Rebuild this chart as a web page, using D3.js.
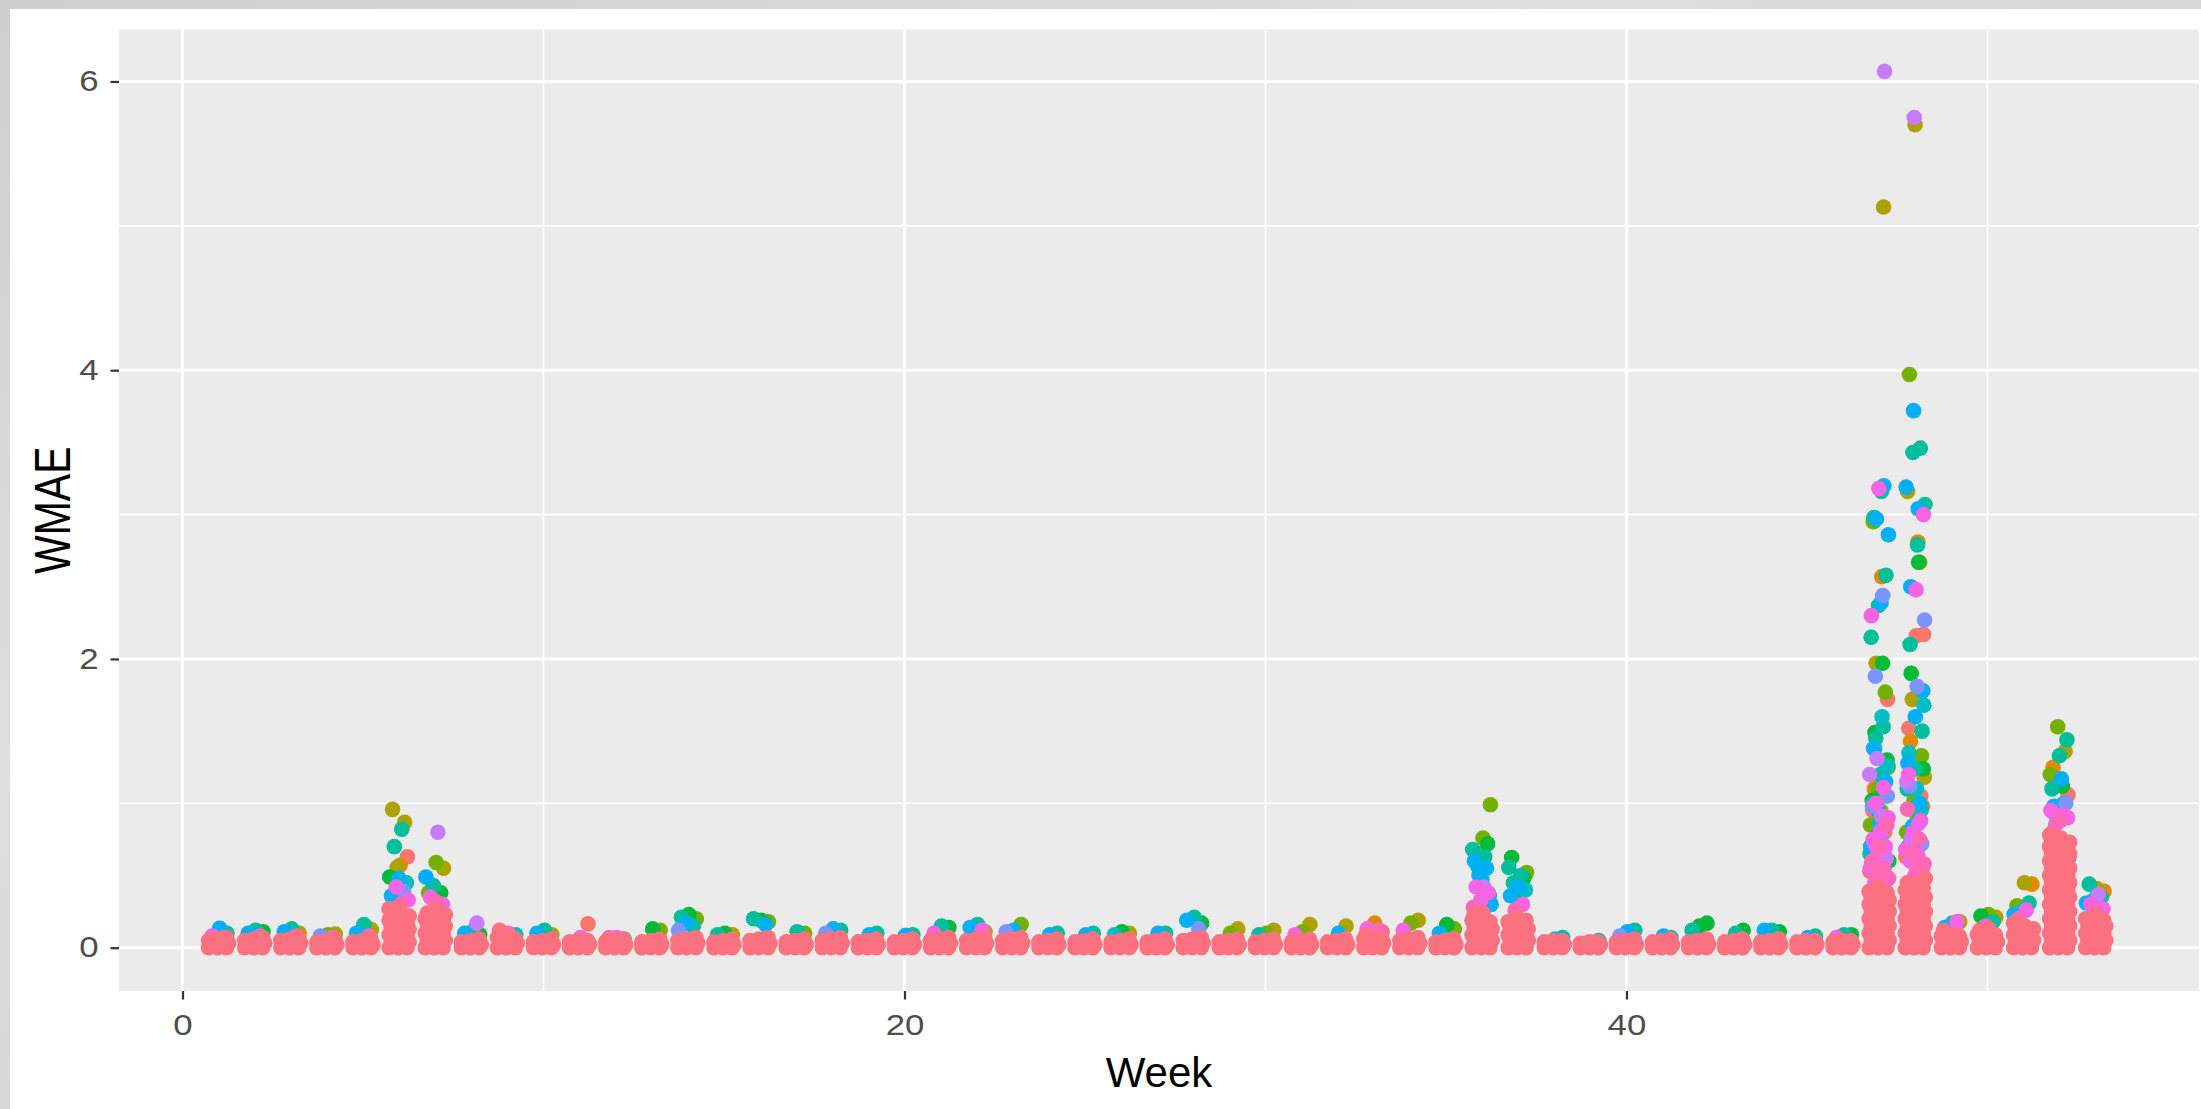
<!DOCTYPE html>
<html>
<head>
<meta charset="utf-8">
<script src="https://cdn.jsdelivr.net/npm/d3@7"></script>
<style>
  html, body { margin: 0; padding: 0; background: #d8d8d8; }
  svg { display: block; }
</style>
</head>
<body>
<script>
// ---------------- DATA ----------------
const xTickValues = [0, 20, 40];
const xTickLabels = ["0", "20", "40"];
const yTickValues = [0, 2, 4, 6];
const yTickLabels = ["0", "2", "4", "6"];
const xMinorTicks = [10, 30, 50];
const yMinorTicks = [1, 3, 5];
const weeks = [1,2,3,4,5,6,7,8,9,10,11,12,13,14,15,16,17,18,19,20,21,22,23,24,25,26,27,28,29,30,31,32,33,34,35,36,37,38,39,40,41,42,43,44,45,46,47,48,49,50,51,52,53];

// colour groups (ggplot hue palette) - [week, WMAE] pairs
const salmonPts = [[11,0.165],[47,1.72],[47,1.15],[47,0.95],[47,0.80],[47,0.63],[47,0.53],[48,2.17],[48,2.16],[48,1.52],[48,1.05],[48,0.82],[48,0.63],[52,1.06],[52,0.90],[6,0.63],[33,0.11]];
const orangePts = [[47,2.57],[47,1.10],[47,0.88],[47,0.93],[47,0.66],[48,2.81],[48,1.43],[48,0.98],[6,0.57],[33,0.17],[51,0.44],[52,1.25],[53,0.39]];
const olivePts = [[47,5.13],[47,1.97],[47,1.25],[47,0.95],[48,5.70],[48,3.16],[48,2.67],[48,1.72],[48,1.18],[48,0.92],[6,0.958],[6,0.868],[6,0.556],[7,0.55],[3,0.10],[4,0.095],[5,0.125],[10,0.09],[15,0.09],[22,0.11],[26,0.10],[29,0.13],[30,0.12],[31,0.16],[32,0.15],[34,0.19],[49,0.18],[50,0.21],[51,0.45],[52,1.36],[53,0.41]];
const limePts = [[47,2.95],[47,1.77],[47,1.10],[47,0.85],[48,3.97],[48,1.33],[48,1.02],[48,0.80],[7,0.59],[7,0.38],[13,0.12],[14,0.20],[16,0.18],[17,0.10],[23,0.16],[29,0.10],[30,0.10],[31,0.11],[34,0.17],[35,0.13],[36,0.99],[36,0.76],[36,0.66],[37,0.52],[37,0.45],[50,0.23],[51,0.29],[52,1.53],[52,1.20],[4,0.09]];
const greenPts = [[47,1.97],[47,1.49],[47,1.30],[47,1.04],[47,1.02],[47,0.90],[47,0.77],[47,0.60],[48,2.67],[48,1.90],[48,1.24],[48,0.97],[48,0.70],[6,0.49],[7,0.38],[2,0.11],[8,0.09],[13,0.13],[14,0.23],[15,0.10],[16,0.19],[21,0.14],[26,0.11],[28,0.17],[35,0.16],[36,0.72],[36,0.52],[37,0.625],[37,0.48],[37,0.38],[42,0.17],[42,0.15],[43,0.12],[44,0.11],[46,0.09],[50,0.22],[52,1.12],[52,0.93]];
const tealPts = [[47,3.16],[47,2.98],[47,2.58],[47,2.37],[47,2.15],[47,1.53],[47,1.45],[47,1.26],[47,1.20],[47,1.00],[47,0.84],[47,0.75],[47,0.65],[48,3.46],[48,3.43],[48,3.07],[48,2.79],[48,2.10],[48,1.50],[48,1.24],[48,1.10],[48,0.90],[48,0.74],[6,0.82],[6,0.70],[7,0.43],[1,0.10],[2,0.12],[3,0.13],[5,0.16],[8,0.11],[10,0.12],[14,0.21],[14,0.15],[15,0.09],[16,0.20],[17,0.11],[18,0.12],[19,0.10],[20,0.09],[21,0.15],[22,0.16],[24,0.10],[25,0.10],[27,0.10],[28,0.21],[30,0.09],[36,0.68],[36,0.63],[36,0.57],[36,0.36],[37,0.555],[37,0.50],[37,0.45],[38,0.07],[39,0.05],[40,0.12],[41,0.07],[42,0.12],[43,0.10],[44,0.12],[45,0.08],[46,0.09],[49,0.17],[50,0.18],[51,0.31],[52,1.44],[52,1.33],[52,1.10],[52,1.00],[53,0.44],[53,0.35]];
const cyanPts = [[47,1.60],[47,1.38],[47,1.25],[47,0.85],[48,1.68],[48,1.10],[48,1.35],[47,0.58],[48,0.95],[6,0.45],[36,0.47],[37,0.40],[52,0.72],[52,0.62],[51,0.25],[53,0.33],[9,0.09],[12,0.06],[26,0.09]];
const skyPts = [[47,3.20],[47,2.97],[47,2.86],[47,2.39],[47,1.38],[47,1.15],[47,0.95],[47,0.70],[48,3.72],[48,3.19],[48,3.04],[48,2.50],[48,1.78],[48,1.60],[48,1.28],[48,1.00],[48,0.84],[6,0.48],[6,0.36],[7,0.49],[1,0.135],[2,0.10],[3,0.11],[5,0.10],[8,0.10],[10,0.10],[14,0.17],[16,0.16],[18,0.13],[19,0.09],[20,0.085],[22,0.14],[23,0.12],[24,0.09],[25,0.09],[27,0.10],[28,0.19],[32,0.10],[35,0.10],[36,0.60],[36,0.55],[36,0.50],[36,0.30],[37,0.42],[37,0.36],[38,0.06],[40,0.11],[41,0.08],[44,0.12],[45,0.07],[49,0.14],[51,0.23],[52,1.17],[52,0.98],[53,0.31]];
const bluePts = [[47,2.44],[47,1.88],[47,1.05],[47,0.78],[48,2.27],[48,1.81],[48,1.12],[6,0.39],[4,0.08],[14,0.12],[18,0.10],[23,0.11],[28,0.13],[40,0.08],[52,1.00],[52,0.90],[47,0.98],[48,0.72]];
const purplePts = [[47,6.07],[47,1.31],[47,1.20],[47,0.91],[47,0.72],[47,0.62],[48,5.75],[48,1.15],[48,0.86],[48,0.76],[7,0.80],[8,0.17],[36,0.42],[53,0.37]];
const magentaPts = [[47,3.18],[47,2.30],[47,1.11],[47,1.00],[47,0.90],[47,0.81],[47,0.75],[47,0.70],[47,0.66],[47,0.55],[47,0.50],[47,0.45],[48,3.00],[48,2.48],[48,1.20],[48,0.88],[48,0.80],[48,0.68],[48,0.64],[48,0.60],[48,0.55],[48,0.50],[6,0.42],[6,0.33],[7,0.35],[7,0.30],[1,0.08],[2,0.08],[4,0.07],[5,0.08],[11,0.07],[12,0.07],[21,0.10],[22,0.12],[31,0.09],[33,0.13],[34,0.12],[36,0.42],[36,0.38],[36,0.33],[37,0.30],[46,0.07],[49,0.18],[50,0.15],[51,0.26],[52,0.95],[52,0.92],[52,0.85],[52,0.90],[53,0.30],[53,0.27]];
const pinkPts = [[1,0.07],[3,0.08],[12,0.07],[33,0.12],[47,0.85],[47,0.70],[47,0.60],[47,0.55],[47,0.50],[47,0.48],[47,0.40],[48,0.96],[48,0.75],[48,0.66],[48,0.58],[48,0.55],[48,0.45],[52,0.88],[52,0.80],[52,0.65],[52,0.55],[6,0.30],[7,0.32],[36,0.28],[37,0.26],[9,0.10],[53,0.25],[51,0.20]];

// dense bulk of low-WMAE points for each week (index = week - 1)
const bulkByWeek = [
  [0,0,0,0.02,0.03,0.03,0.05,0.06,0.07],
  [0,0,0,0.02,0.03,0.03,0.05,0.06,0.07],
  [0,0,0,0.02,0.03,0.03,0.05,0.06,0.07],
  [0,0,0,0.02,0.03,0.02,0.04,0.05,0.06],
  [0,0,0,0.02,0.03,0.02,0.04,0.05,0.06],
  [0,0,0,0.04,0.05,0.04,0.09,0.10,0.08,0.14,0.15,0.13,0.19,0.20,0.18,0.24,0.25,0.22,0.27,0.28],
  [0,0,0,0.05,0.04,0.05,0.10,0.09,0.10,0.15,0.14,0.15,0.20,0.19,0.20,0.24,0.26,0.23],
  [0,0,0,0.02,0.03,0.02,0.04,0.05,0.06],
  [0,0,0,0.03,0.04,0.03,0.07,0.08,0.06,0.12],
  [0,0,0,0.02,0.03,0.02,0.04,0.05,0.06],
  [0,0,0,0.02,0.03,0.02,0.04,0.05,0.05],
  [0,0,0,0.02,0.03,0.02,0.04,0.05,0.06],
  [0,0,0,0.02,0.03,0.02,0.04,0.05,0.06],
  [0,0,0,0.02,0.03,0.03,0.05,0.06,0.07],
  [0,0,0,0.02,0.03,0.02,0.04,0.05,0.06],
  [0,0,0,0.02,0.03,0.03,0.05,0.06,0.07],
  [0,0,0,0.02,0.03,0.02,0.04,0.05,0.06],
  [0,0,0,0.02,0.03,0.03,0.05,0.06,0.07],
  [0,0,0,0.02,0.03,0.02,0.04,0.05,0.06],
  [0,0,0,0.02,0.03,0.02,0.04,0.05,0.06],
  [0,0,0,0.02,0.03,0.03,0.05,0.06,0.07],
  [0,0,0,0.02,0.03,0.03,0.05,0.06,0.07],
  [0,0,0,0.02,0.03,0.03,0.05,0.06,0.07],
  [0,0,0,0.02,0.03,0.02,0.04,0.05,0.06],
  [0,0,0,0.02,0.03,0.02,0.04,0.05,0.06],
  [0,0,0,0.02,0.03,0.02,0.04,0.05,0.06],
  [0,0,0,0.02,0.03,0.02,0.04,0.05,0.06],
  [0,0,0,0.02,0.03,0.03,0.05,0.06,0.07],
  [0,0,0,0.02,0.03,0.02,0.04,0.05,0.06],
  [0,0,0,0.02,0.03,0.02,0.04,0.05,0.06],
  [0,0,0,0.02,0.03,0.02,0.04,0.05,0.06],
  [0,0,0,0.02,0.03,0.02,0.04,0.05,0.06],
  [0,0,0,0.03,0.04,0.03,0.06,0.07,0.06,0.09],
  [0,0,0,0.02,0.03,0.03,0.05,0.06,0.07],
  [0,0,0,0.02,0.03,0.02,0.04,0.05,0.06],
  [0,0,0,0.05,0.04,0.05,0.09,0.10,0.09,0.14,0.15,0.13,0.19,0.20,0.18,0.23,0.24],
  [0,0,0,0.05,0.04,0.05,0.09,0.10,0.09,0.14,0.15,0.13,0.18,0.21,0.19],
  [0,0,0,0.02,0.03,0.02,0.04,0.05,0.05],
  [0,0,0,0.02,0.03,0.02,0.03,0.04,0.04],
  [0,0,0,0.02,0.03,0.02,0.04,0.05,0.06],
  [0,0,0,0.02,0.03,0.02,0.04,0.05,0.06],
  [0,0,0,0.02,0.03,0.02,0.04,0.05,0.06],
  [0,0,0,0.02,0.03,0.02,0.04,0.05,0.06],
  [0,0,0,0.02,0.03,0.02,0.04,0.05,0.06],
  [0,0,0,0.02,0.03,0.02,0.04,0.05,0.05],
  [0,0,0,0.02,0.03,0.02,0.04,0.05,0.05],
  [0,0,0,0.05,0.04,0.05,0.10,0.09,0.10,0.15,0.14,0.15,0.20,0.19,0.20,0.25,0.24,0.25,0.30,0.29,0.30,0.35,0.34,0.33,0.39,0.42,0.38],
  [0,0,0,0.05,0.04,0.05,0.10,0.09,0.10,0.15,0.14,0.15,0.20,0.19,0.20,0.25,0.24,0.25,0.30,0.29,0.30,0.35,0.34,0.35,0.40,0.39,0.41,0.45,0.44,0.48],
  [0,0,0,0.04,0.05,0.04,0.08,0.09,0.08,0.12],
  [0,0,0,0.04,0.05,0.04,0.09,0.08,0.09,0.12,0.13],
  [0,0,0,0.05,0.04,0.05,0.09,0.10,0.09,0.14,0.15,0.13,0.17],
  [0,0,0,0.05,0.04,0.05,0.10,0.09,0.10,0.15,0.14,0.15,0.20,0.19,0.20,0.25,0.24,0.25,0.30,0.29,0.30,0.35,0.34,0.35,0.40,0.39,0.40,0.45,0.44,0.45,0.50,0.49,0.50,0.55,0.54,0.55,0.60,0.59,0.60,0.65,0.64,0.65,0.70,0.69,0.70,0.74,0.76,0.73,0.78],
  [0,0,0,0.05,0.04,0.05,0.10,0.09,0.10,0.15,0.14,0.15,0.20,0.22,0.19]
];

const groups = [
  { pts: salmonPts,  color: "#F8766D" },
  { pts: orangePts,  color: "#E08A00" },
  { pts: olivePts,   color: "#ADA200" },
  { pts: limePts,    color: "#74B000" },
  { pts: greenPts,   color: "#00BA38" },
  { pts: tealPts,    color: "#00BF9A" },
  { pts: cyanPts,    color: "#00BFC4" },
  { pts: skyPts,     color: "#00B0F6" },
  { pts: bluePts,    color: "#7B95FF" },
  { pts: purplePts,  color: "#C77CFF" },
  { pts: magentaPts, color: "#F564E3" },
  { pts: pinkPts,    color: "#FF68B4" }
];
const bulkColor = "#FC717F";

// ---------------- LAYOUT ----------------
const W = 2201, H = 1109;
const panel = { left: 119, right: 2199, top: 29.5, bottom: 991 };
const x = d3.scaleLinear().domain([-1.76, 55.86]).range([panel.left, panel.right]);
const y = d3.scaleLinear().domain([-0.30, 6.36]).range([panel.bottom, panel.top]);
const R = 7.8;
const JIT = 0.27; // jitter half-width in weeks

const svg = d3.select("body").append("svg").attr("width", W).attr("height", H);

// outer textured frame
const defs = svg.append("defs");
const g1 = defs.append("linearGradient").attr("id", "frame").attr("x1", 0).attr("y1", 0).attr("x2", 1).attr("y2", 1);
g1.append("stop").attr("offset", "0%").attr("stop-color", "#cfcfcf");
g1.append("stop").attr("offset", "35%").attr("stop-color", "#dedede");
g1.append("stop").attr("offset", "60%").attr("stop-color", "#d2d2d2");
g1.append("stop").attr("offset", "100%").attr("stop-color", "#e2e2e2");
svg.append("rect").attr("width", W).attr("height", H).attr("fill", "url(#frame)");
svg.append("rect").attr("x", 10).attr("y", 9).attr("width", W - 10).attr("height", H - 9).attr("fill", "#ffffff");

// panel
svg.append("rect").attr("x", panel.left).attr("y", panel.top)
  .attr("width", panel.right - panel.left).attr("height", panel.bottom - panel.top)
  .attr("fill", "#EBEBEB");

const grid = svg.append("g");
grid.selectAll(".ymin").data(yMinorTicks).join("line")
  .attr("x1", panel.left).attr("x2", panel.right)
  .attr("y1", d => y(d)).attr("y2", d => y(d))
  .attr("stroke", "#fff").attr("stroke-width", 1.6);
grid.selectAll(".xmin").data(xMinorTicks).join("line")
  .attr("y1", panel.top).attr("y2", panel.bottom)
  .attr("x1", d => x(d)).attr("x2", d => x(d))
  .attr("stroke", "#fff").attr("stroke-width", 1.6);
grid.selectAll(".ymaj").data(yTickValues).join("line")
  .attr("x1", panel.left).attr("x2", panel.right)
  .attr("y1", d => y(d)).attr("y2", d => y(d))
  .attr("stroke", "#fff").attr("stroke-width", 3);
grid.selectAll(".xmaj").data(xTickValues).join("line")
  .attr("y1", panel.top).attr("y2", panel.bottom)
  .attr("x1", d => x(d)).attr("x2", d => x(d))
  .attr("stroke", "#fff").attr("stroke-width", 3);

// ---------------- POINTS ----------------
const clip = defs.append("clipPath").attr("id", "pclip");
clip.append("rect").attr("x", panel.left).attr("y", panel.top)
  .attr("width", panel.right - panel.left).attr("height", panel.bottom - panel.top);

const pts = [];
const weekCounter = {};
groups.forEach(g => {
  g.pts.forEach(([w, v]) => {
    const k = (weekCounter[w] = (weekCounter[w] || 0) + 1);
    const off = (((k * 0.618034 + 0.31) % 1) * 2 - 1) * JIT;
    pts.push({ w, v, off, color: g.color });
  });
});
const colPattern = [-1, 0, 1];
bulkByWeek.forEach((vals, i) => {
  const w = weeks[i];
  vals.forEach((v, k) => {
    const row = Math.floor(k / 3);
    const off = colPattern[k % 3] * JIT * 0.92 + (row % 2 ? 0.03 : -0.03);
    pts.push({ w, v, off, color: bulkColor });
  });
});

svg.append("g").attr("clip-path", "url(#pclip)")
  .selectAll("circle").data(pts).join("circle")
  .attr("cx", d => x(d.w + d.off))
  .attr("cy", d => y(d.v))
  .attr("r", R)
  .attr("fill", d => d.color);

// ---------------- AXES ----------------
const font = "'Liberation Sans', Arial, sans-serif";
const yTickSize = 8.5, yTickPad = 12;
const yAxis = d3.axisLeft(y).tickValues(yTickValues)
  .tickFormat((d, i) => yTickLabels[i]).tickSize(yTickSize).tickPadding(yTickPad);
const yg = svg.append("g").attr("transform", `translate(${panel.left},0)`).call(yAxis);
yg.select(".domain").remove();
yg.selectAll(".tick line").attr("stroke", "#333333").attr("stroke-width", 2.2);
const ya = -(yTickSize + yTickPad);
yg.selectAll(".tick text").attr("fill", "#4D4D4D").style("font-size", "29px").style("font-family", font)
  .attr("transform", `translate(${ya},0) scale(1.2,1) translate(${-ya},0)`);

const xAxis = d3.axisBottom(x).tickValues(xTickValues)
  .tickFormat((d, i) => xTickLabels[i]).tickSize(8.5).tickPadding(15);
const xg = svg.append("g").attr("transform", `translate(0,${panel.bottom})`).call(xAxis);
xg.select(".domain").remove();
xg.selectAll(".tick line").attr("stroke", "#333333").attr("stroke-width", 2.2);
xg.selectAll(".tick text").attr("fill", "#4D4D4D").style("font-size", "29px").style("font-family", font)
  .attr("transform", "scale(1.2,1)");

// titles
svg.append("text").attr("x", (panel.left + panel.right) / 2).attr("y", 1087)
  .attr("text-anchor", "middle").style("font-family", font).style("font-size", "42px")
  .attr("fill", "#000").text("Week");
svg.append("text").attr("transform", `translate(70,${(panel.top + panel.bottom) / 2}) scale(1.22,1) rotate(-90)`)
  .attr("text-anchor", "middle").style("font-family", font).style("font-size", "41px")
  .attr("fill", "#000").text("WMAE");
</script>
</body>
</html>
